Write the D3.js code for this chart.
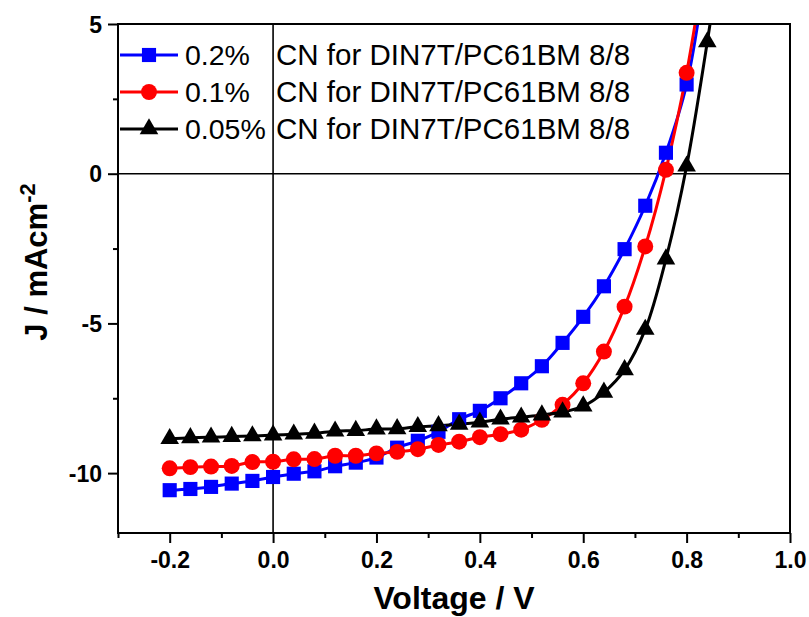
<!DOCTYPE html>
<html>
<head>
<meta charset="utf-8">
<script src="https://cdn.jsdelivr.net/npm/d3@7"></script>
<style>
  html, body { margin: 0; padding: 0; background: #fff; }
  svg { display: block; font-family: "Liberation Sans", Arial, sans-serif; }
</style>
</head>
<body>
<svg id="chart" width="809" height="617"></svg>
<script>
// Voltage steps (V)
const voltage = [-0.2, -0.16, -0.12, -0.08, -0.04, 0.0, 0.04, 0.08, 0.12, 0.16, 0.2,
  0.24, 0.28, 0.32, 0.36, 0.4, 0.44, 0.48, 0.52, 0.56, 0.6, 0.64, 0.68, 0.72, 0.76, 0.8, 0.84, 0.88];

// J (mA/cm2), last points run off the top and are clipped
const cn02 = [-10.57, -10.53, -10.46, -10.35, -10.26, -10.13, -10.02, -9.94, -9.77, -9.65, -9.48,
  -9.15, -8.92, -8.62, -8.2, -7.92, -7.5, -7.0, -6.43, -5.65, -4.78, -3.76, -2.52, -1.07, 0.7, 2.98, 7.2];
const cn01 = [-9.84, -9.8, -9.78, -9.76, -9.63, -9.62, -9.54, -9.53, -9.42, -9.42, -9.34,
  -9.29, -9.2, -9.06, -8.95, -8.8, -8.7, -8.55, -8.22, -7.72, -7.0, -5.94, -4.44, -2.43, 0.13, 3.37, 7.6];
const cn005 = [-8.85, -8.82, -8.8, -8.78, -8.76, -8.73, -8.7, -8.67, -8.6, -8.58, -8.53,
  -8.52, -8.45, -8.42, -8.37, -8.3, -8.2, -8.13, -8.06, -7.96, -7.76, -7.3, -6.55, -5.2, -2.85, 0.25, 4.4, 9.0];

const seriesNames = ['0.2%', '0.1%', '0.05%'];
const seriesLabel = 'CN for DIN7T/PC61BM 8/8';

const xTicks = [-0.2, 0.0, 0.2, 0.4, 0.6, 0.8, 1.0];
const xMinorTicks = [-0.3, -0.1, 0.1, 0.3, 0.5, 0.7, 0.9];
const yTicks = [-10, -5, 0, 5];
const yMinorTicks = [-7.5, -2.5, 2.5];

const series = [
  { name: seriesNames[0], values: cn02, color: '#0000ff', symbol: d3.symbolSquare, size: 200 },
  { name: seriesNames[1], values: cn01, color: '#ff0000', symbol: d3.symbolCircle, size: 200 },
  { name: seriesNames[2], values: cn005, color: '#000000', symbol: d3.symbolTriangle, size: 150 }
];

const svg = d3.select('#chart');
const plotLeft = 118, plotRight = 790, plotTop = 24, plotBottom = 533;

const x = d3.scaleLinear().domain([-0.3, 1.0]).range([plotLeft, plotRight]);
const y = d3.scaleLinear().domain([-12, 5]).range([plotBottom, plotTop]);

// plain hyphen minus like the original figure
const hyphen = f => v => f(v).replace('\u2212', '-');

svg.append('defs').append('clipPath').attr('id', 'plotClip')
  .append('rect').attr('x', plotLeft).attr('y', plotTop)
  .attr('width', plotRight - plotLeft).attr('height', plotBottom - plotTop);

// zero lines
svg.append('line').attr('x1', x(0)).attr('x2', x(0)).attr('y1', plotTop).attr('y2', plotBottom)
  .attr('stroke', '#000').attr('stroke-width', 1.6);
svg.append('line').attr('x1', plotLeft).attr('x2', plotRight).attr('y1', y(0)).attr('y2', y(0))
  .attr('stroke', '#000').attr('stroke-width', 1.6);

// curves
const plot = svg.append('g').attr('clip-path', 'url(#plotClip)');
const line = d3.line()
  .x((d, i) => x(voltage[i]))
  .y(d => y(d))
  .curve(d3.curveCatmullRom.alpha(0.5));

series.forEach(s => {
  plot.append('path')
    .attr('d', line(s.values))
    .attr('fill', 'none')
    .attr('stroke', s.color)
    .attr('stroke-width', 3);
});

series.forEach(s => {
  plot.append('g').selectAll('path')
    .data(s.values)
    .enter()
    .append('path')
    .attr('transform', (d, i) => `translate(${x(voltage[i])},${y(d)})`)
    .attr('d', d3.symbol().type(s.symbol).size(s.size))
    .attr('fill', s.color);
});

// axes
const xAxis = svg.append('g').attr('transform', `translate(0,${plotBottom})`)
  .call(d3.axisBottom(x).tickValues(xTicks).tickFormat(hyphen(d3.format('.1f'))).tickSize(10).tickPadding(9));
const xMinor = svg.append('g').attr('transform', `translate(0,${plotBottom})`)
  .call(d3.axisBottom(x).tickValues(xMinorTicks).tickFormat('').tickSize(5));
const yAxis = svg.append('g').attr('transform', `translate(${plotLeft},0)`)
  .call(d3.axisLeft(y).tickValues(yTicks).tickFormat(hyphen(d3.format('d'))).tickSize(10).tickPadding(6));
const yMinor = svg.append('g').attr('transform', `translate(${plotLeft},0)`)
  .call(d3.axisLeft(y).tickValues(yMinorTicks).tickFormat('').tickSize(5));

[xAxis, xMinor, yAxis, yMinor].forEach(g => {
  g.select('.domain').remove();
  g.selectAll('line').attr('stroke', '#000').attr('stroke-width', 2);
  g.selectAll('text').attr('fill', '#000').attr('font-size', 23).attr('font-weight', 'bold')
    .attr('font-family', '"Liberation Sans", Arial, sans-serif');
});
yAxis.selectAll('text').attr('dy', '0.36em');

// frame
svg.append('rect').attr('x', plotLeft).attr('y', plotTop)
  .attr('width', plotRight - plotLeft).attr('height', plotBottom - plotTop)
  .attr('fill', 'none').attr('stroke', '#000').attr('stroke-width', 2);

// axis titles
svg.append('text').attr('x', 454).attr('y', 609)
  .attr('text-anchor', 'middle').attr('font-size', 32).attr('font-weight', 'bold')
  .text('Voltage / V');

const yTitle = svg.append('text')
  .attr('transform', 'translate(47,262) rotate(-90)')
  .attr('text-anchor', 'middle').attr('font-size', 31).attr('font-weight', 'bold');
yTitle.append('tspan').text('J / mAcm');
yTitle.append('tspan').attr('dy', -12).attr('font-size', 22).text('-2');

// legend
const legend = svg.append('g');
series.forEach((s, i) => {
  const ly = 55 + i * 37;
  legend.append('line').attr('x1', 120).attr('x2', 178).attr('y1', ly).attr('y2', ly)
    .attr('stroke', s.color).attr('stroke-width', 3);
  legend.append('path').attr('transform', `translate(149,${ly})`)
    .attr('d', d3.symbol().type(s.symbol).size(s.size)).attr('fill', s.color);
  legend.append('text').attr('x', 185).attr('y', ly + 10).attr('font-size', 28.5).text(s.name);
  legend.append('text').attr('x', 276).attr('y', ly + 10).attr('font-size', 29.5).text(seriesLabel);
});
</script>
</body>
</html>
